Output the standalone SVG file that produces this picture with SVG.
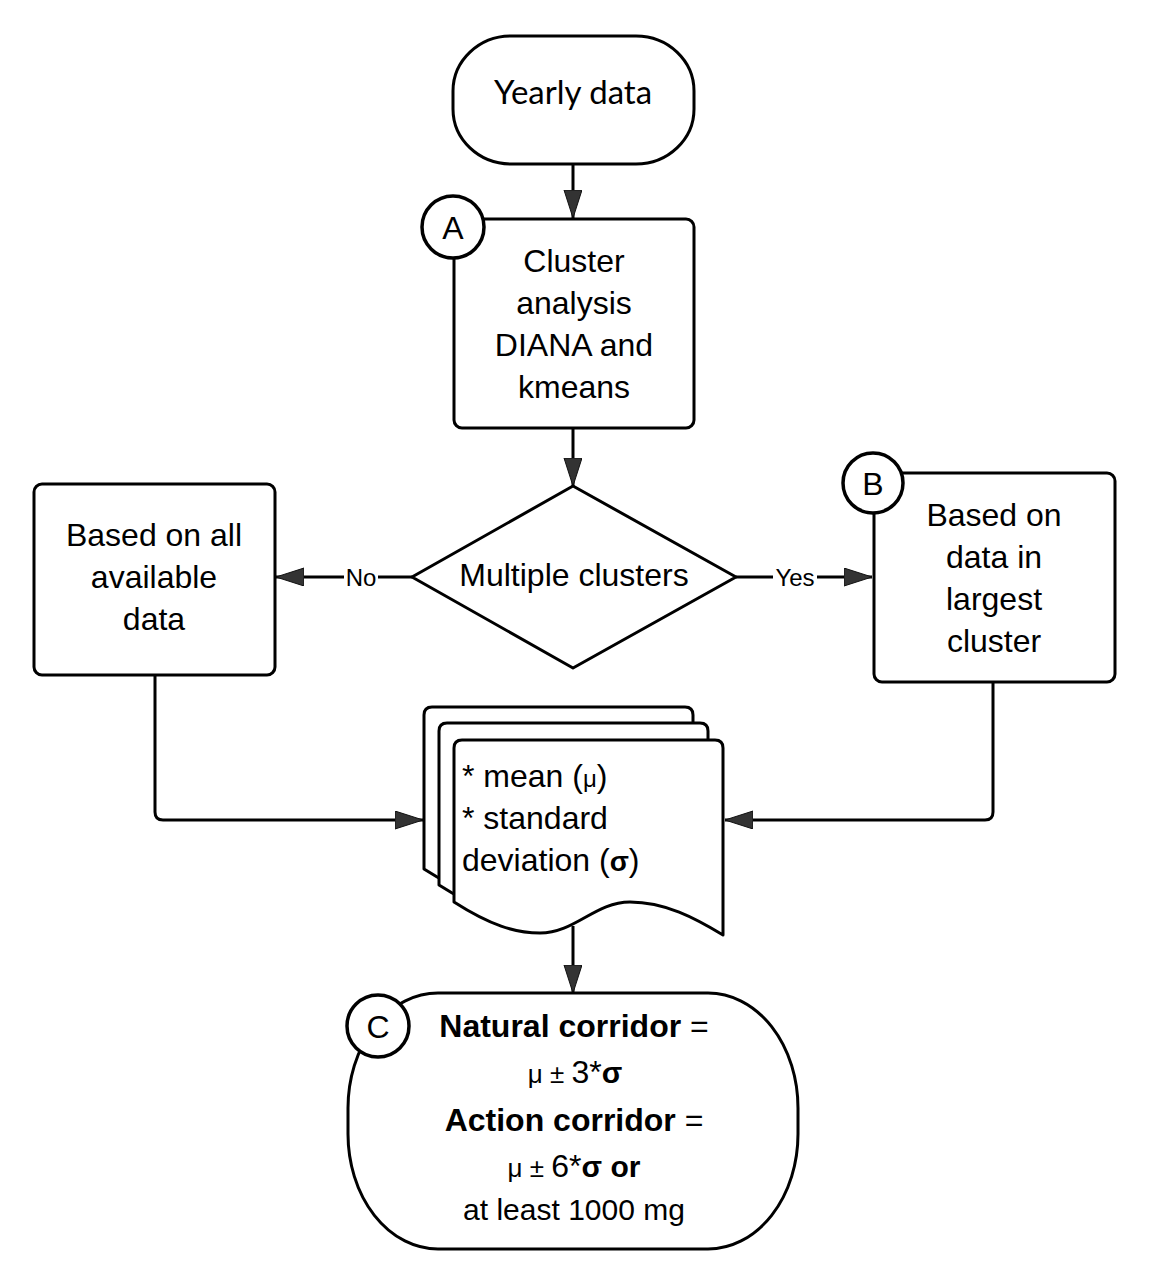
<svg xmlns="http://www.w3.org/2000/svg" width="1167" height="1272" viewBox="0 0 1167 1272">
<style>
.shape{fill:#fff;stroke:#000;stroke-width:3;stroke-linejoin:round}
.conn{fill:none;stroke:#000;stroke-width:3}
.t{font-family:"Liberation Sans",Arial,sans-serif;font-size:32px;fill:#000;text-anchor:middle}
.tl{font-family:"Liberation Sans",Arial,sans-serif;font-size:32px;fill:#000}
.lbl{font-family:"Liberation Sans",Arial,sans-serif;font-size:24px;fill:#000;text-anchor:middle}
.b{font-weight:bold}
.cir{fill:#fff;stroke:#000;stroke-width:3.5}
</style>
<defs>
<marker id="arr" markerUnits="userSpaceOnUse" markerWidth="30" markerHeight="20" refX="28" refY="9" orient="auto">
<path d="M0,0 L28,9 L0,18 Z" fill="#333" stroke="#111" stroke-width="1"/>
</marker>
<path id="doc" d="M454,748 Q454,740 462,740 L715,740 Q723,740 723,748 L723,935 C695,918 665,902 630,902 C595,902 575,933 540,933 C515,933 490,925 454,902 Z"/>
</defs>

<g id="connectors">
<path class="conn" d="M573,165 L573,218" marker-end="url(#arr)"/>
<path class="conn" d="M573,429 L573,486" marker-end="url(#arr)"/>
<path class="conn" d="M412,577 L276,577" marker-end="url(#arr)"/>
<path class="conn" d="M736,577 L872,577" marker-end="url(#arr)"/>
<path class="conn" d="M155,675 L155,812 Q155,820 163,820 L423,820" marker-end="url(#arr)"/>
<path class="conn" d="M993,682 L993,812 Q993,820 985,820 L725,820" marker-end="url(#arr)"/>
<path class="conn" d="M573,926 L573,993" marker-end="url(#arr)"/>
<rect x="344" y="564" width="34" height="26" fill="#fff"/>
<text class="lbl" x="361" y="586">No</text>
<rect x="773" y="564" width="44" height="26" fill="#fff"/>
<text class="lbl" x="795" y="586">Yes</text>
</g>

<g id="yearly">
<rect class="shape" x="453" y="36" width="241" height="128" rx="58" ry="55"/>
<text x="573" y="104" style="font-family:Lato,'Open Sans',sans-serif;font-size:33px;text-anchor:middle">Yearly data</text>
</g>

<g id="clusterA">
<rect class="shape" x="454" y="219" width="240" height="209" rx="8"/>
<text class="t" x="574" y="272">Cluster</text>
<text class="t" x="574" y="314">analysis</text>
<text class="t" x="574" y="356">DIANA and</text>
<text class="t" x="574" y="398">kmeans</text>
<circle class="cir" cx="453" cy="227" r="31"/>
<text class="t" x="453" y="239">A</text>
</g>

<g id="decision">
<polygon class="shape" points="412,577 573,486 736,577 573,668"/>
<text class="t" x="574" y="586">Multiple clusters</text>
</g>

<g id="allData">
<rect class="shape" x="34" y="484" width="241" height="191" rx="8"/>
<text class="t" x="154" y="546">Based on all</text>
<text class="t" x="154" y="588">available</text>
<text class="t" x="154" y="630">data</text>
</g>

<g id="largestB">
<rect class="shape" x="874" y="473" width="241" height="209" rx="8"/>
<text class="t" x="994" y="526">Based on</text>
<text class="t" x="994" y="568">data in</text>
<text class="t" x="994" y="610">largest</text>
<text class="t" x="994" y="652">cluster</text>
<circle class="cir" cx="873" cy="483" r="30"/>
<text class="t" x="873" y="495">B</text>
</g>

<g id="stats">
<use href="#doc" class="shape" transform="translate(-30,-33)"/>
<use href="#doc" class="shape" transform="translate(-15,-17)"/>
<use href="#doc" class="shape"/>
<text class="tl" x="462" y="787">* mean (<tspan font-size="24">μ</tspan>)</text>
<text class="tl" x="462" y="829">* standard</text>
<text class="tl" x="462" y="871">deviation (<tspan class="b" font-size="28">σ</tspan>)</text>
</g>

<g id="corridorC">
<rect class="shape" x="348" y="993" width="450" height="256" rx="90" ry="115"/>
<text class="t" x="574" y="1037"><tspan class="b">Natural corridor</tspan> =</text>
<text class="t" x="575" y="1083"><tspan font-size="26">μ ± </tspan><tspan font-size="32">3*</tspan><tspan class="b" font-size="30">σ</tspan></text>
<text class="t" x="574" y="1131"><tspan class="b">Action corridor</tspan> =</text>
<text class="t" x="574" y="1177"><tspan font-size="26">μ ± </tspan><tspan font-size="32">6*</tspan><tspan class="b" font-size="30">σ or</tspan></text>
<text class="t" x="574" y="1220" style="font-size:30px">at least 1000 mg</text>
<circle class="cir" cx="378" cy="1026" r="31"/>
<text class="t" x="378" y="1038">C</text>
</g>
</svg>
